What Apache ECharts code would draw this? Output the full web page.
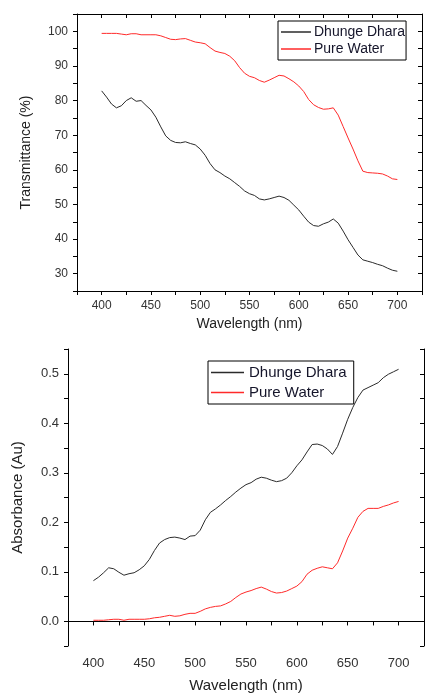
<!DOCTYPE html>
<html>
<head>
<meta charset="utf-8">
<style>
  html, body { margin: 0; padding: 0; background: #fff; }
  #chart { width: 427px; height: 694px; }
</style>
<script src="https://cdn.jsdelivr.net/npm/echarts@6/dist/echarts.min.js"></script>
</head>
<body>
<div id="chart"></div>
<script>
// Wavelength grid (nm)
const wavelength = [400,405,410,415,420,425,430,435,440,445,450,455,460,465,470,475,480,485,490,495,
  500,505,510,515,520,525,530,535,540,545,550,555,560,565,570,575,580,585,590,595,
  600,605,610,615,620,625,630,635,640,645,650,655,660,665,670,675,680,685,690,695,700];

// Transmittance (%)
const transDhunge = [82.8,81.0,79.0,77.9,78.5,80.0,80.8,79.8,80.0,78.6,77.3,75.2,72.4,69.8,68.5,67.9,67.8,68.1,67.6,67.2,
  66.0,64.2,61.8,60.0,59.2,58.2,57.4,56.3,55.2,53.9,53.1,52.6,51.6,51.3,51.6,52.0,52.4,52.0,51.2,49.8,
  48.4,46.6,44.9,43.9,43.7,44.4,44.9,45.8,44.6,42.3,39.8,37.6,35.4,34.0,33.6,33.2,32.7,32.3,31.6,31.0,30.7];
const transPure = [99.4,99.4,99.4,99.4,99.2,99.0,99.3,99.3,99.0,99.0,99.0,99.0,98.7,98.2,97.7,97.6,97.8,97.9,97.4,96.9,
  96.7,96.4,95.3,94.3,93.9,93.6,92.8,91.5,89.5,87.9,87.0,86.6,85.8,85.3,85.9,86.6,87.3,87.1,86.3,85.4,
  84.2,82.6,80.3,78.8,78.0,77.5,77.6,77.9,75.8,72.5,69.2,66.0,62.6,59.6,59.2,59.1,59.0,58.8,58.2,57.4,57.2];

// Absorbance (Au)
const absDhunge = [0.082,0.089,0.098,0.108,0.106,0.099,0.093,0.096,0.098,0.104,0.112,0.125,0.143,0.158,0.165,0.169,0.170,0.168,0.165,0.172,
  0.173,0.184,0.205,0.220,0.227,0.235,0.244,0.252,0.261,0.269,0.276,0.280,0.287,0.291,0.289,0.285,0.282,0.284,0.289,0.300,
  0.314,0.326,0.342,0.357,0.358,0.355,0.348,0.337,0.353,0.380,0.408,0.432,0.452,0.467,0.472,0.477,0.482,0.492,0.499,0.504,0.509];
const absPure = [0.002,0.002,0.002,0.003,0.004,0.004,0.002,0.004,0.004,0.004,0.004,0.005,0.007,0.008,0.010,0.012,0.010,0.011,0.014,0.016,
  0.016,0.020,0.025,0.028,0.030,0.031,0.035,0.040,0.048,0.055,0.059,0.062,0.066,0.069,0.065,0.060,0.057,0.058,0.061,0.066,
  0.071,0.080,0.095,0.103,0.107,0.110,0.108,0.106,0.118,0.142,0.168,0.188,0.210,0.222,0.228,0.228,0.228,0.232,0.235,0.239,0.242];

const seriesNames = ['Dhunge Dhara', 'Pure Water'];
const xTitle = 'Wavelength (nm)';
const yTitleTop = 'Transmittance (%)';
const yTitleBottom = 'Absorbance (Au)';

const FONT = '"Liberation Sans", Arial, sans-serif';
const BLACK_LINE = '#2b2b2b';
const RED_LINE = '#ff2a2a';

function pairs(xs, ys) { return xs.map((x, i) => [x, ys[i]]); }

const axisLine = { show: true, lineStyle: { color: '#000', width: 1 } };
const labelStyle = { color: '#333', fontFamily: FONT };

function xAxes(gridIndex, fontSize, labelMargin, nameGap, nameSize) {
  return [
    {
      type: 'value', gridIndex, position: 'bottom', min: 375, max: 725, interval: 25,
      axisLine, splitLine: { show: false },
      axisTick: { show: true, inside: false, length: 4, lineStyle: { color: '#000' } },
      axisLabel: Object.assign({ fontSize, margin: labelMargin,
        formatter: v => (v % 50 === 0 && v >= 400 && v <= 700) ? String(v) : '' }, labelStyle),
      name: xTitle, nameLocation: 'middle', nameGap,
      nameTextStyle: { fontSize: nameSize, fontFamily: FONT, color: '#222' }
    },
    {
      type: 'value', gridIndex, position: 'top', min: 375, max: 725, interval: 25,
      axisLine, splitLine: { show: false },
      axisTick: { show: true, inside: true, length: 4, lineStyle: { color: '#000' } },
      axisLabel: { show: false }
    }
  ];
}

const option = {
  animation: false,
  backgroundColor: '#fff',
  grid: [
    { left: 77, top: 14, width: 345, height: 277 },
    { left: 68, top: 349, width: 370, height: 300 }
  ],
  xAxis: [
    ...xAxes(0, 12, 9, 26, 14),
    ...xAxes(1, 13, 11, 32, 15)
  ],
  yAxis: [
    {
      type: 'value', gridIndex: 0, position: 'left', min: 25, max: 105, interval: 5,
      axisLine, splitLine: { show: false },
      axisTick: { show: true, inside: false, length: 4, lineStyle: { color: '#000' } },
      axisLabel: Object.assign({ fontSize: 12, margin: 9,
        formatter: v => (v % 10 === 0 && v >= 30 && v <= 100) ? String(v) : '' }, labelStyle),
      name: yTitleTop, nameLocation: 'middle', nameGap: 44, nameRotate: 90,
      nameTextStyle: { fontSize: 14, fontFamily: FONT, color: '#222' }
    },
    {
      type: 'value', gridIndex: 0, position: 'right', min: 25, max: 105, interval: 5,
      axisLine, splitLine: { show: false },
      axisTick: { show: true, inside: true, length: 4, lineStyle: { color: '#000' } },
      axisLabel: { show: false }
    },
    {
      type: 'value', gridIndex: 1, position: 'left', min: -0.05, max: 0.55, interval: 0.05,
      axisLine, splitLine: { show: false },
      axisTick: { show: true, inside: false, length: 4, lineStyle: { color: '#000' } },
      axisLabel: Object.assign({ fontSize: 13, margin: 9,
        formatter: v => {
          const k = Math.round(v * 100);
          return (k % 10 === 0 && k >= 0 && k <= 50) ? (k / 100).toFixed(1) : '';
        } }, labelStyle),
      name: yTitleBottom, nameLocation: 'middle', nameGap: 43, nameRotate: 90,
      nameTextStyle: { fontSize: 15, fontFamily: FONT, color: '#222' }
    },
    {
      type: 'value', gridIndex: 1, position: 'right', min: -0.05, max: 0.55, interval: 0.05,
      axisLine, splitLine: { show: false },
      axisTick: { show: true, inside: true, length: 4, lineStyle: { color: '#000' } },
      axisLabel: { show: false }
    }
  ],
  legend: [
    {
      data: seriesNames.map(n => ({ name: n })),
      left: 278, top: 21, orient: 'vertical',
      icon: 'rect', itemWidth: 30, itemHeight: 1.5, itemGap: 3,
      borderColor: '#000', borderWidth: 1, borderRadius: 0, padding: [4, 1, 4, 3],
      textStyle: { fontSize: 14, fontFamily: FONT, color: '#15152a', padding: [0, 0, 0, -2] },
      selectedMode: false
    },
    {
      data: seriesNames.map(n => ({ name: n + ' ' })),
      left: 208, top: 361, orient: 'vertical',
      icon: 'rect', itemWidth: 33, itemHeight: 1.5, itemGap: 5,
      borderColor: '#000', borderWidth: 1, borderRadius: 0, padding: [4, 3, 4, 3],
      textStyle: { fontSize: 15, fontFamily: FONT, color: '#15152a' },
      selectedMode: false
    }
  ],
  series: [
    { name: seriesNames[0], type: 'line', xAxisIndex: 0, yAxisIndex: 0, showSymbol: false,
      data: pairs(wavelength, transDhunge), color: BLACK_LINE, lineStyle: { width: 1 } },
    { name: seriesNames[1], type: 'line', xAxisIndex: 0, yAxisIndex: 0, showSymbol: false,
      data: pairs(wavelength, transPure), color: RED_LINE, lineStyle: { width: 1 } },
    { name: seriesNames[0] + ' ', type: 'line', xAxisIndex: 2, yAxisIndex: 2, showSymbol: false,
      data: pairs(wavelength, absDhunge), color: BLACK_LINE, lineStyle: { width: 1 } },
    { name: seriesNames[1] + ' ', type: 'line', xAxisIndex: 2, yAxisIndex: 2, showSymbol: false,
      data: pairs(wavelength, absPure), color: RED_LINE, lineStyle: { width: 1 } }
  ]
};

const chart = echarts.init(document.getElementById('chart'), null, { renderer: 'canvas' });
chart.setOption(option);
</script>
</body>
</html>
